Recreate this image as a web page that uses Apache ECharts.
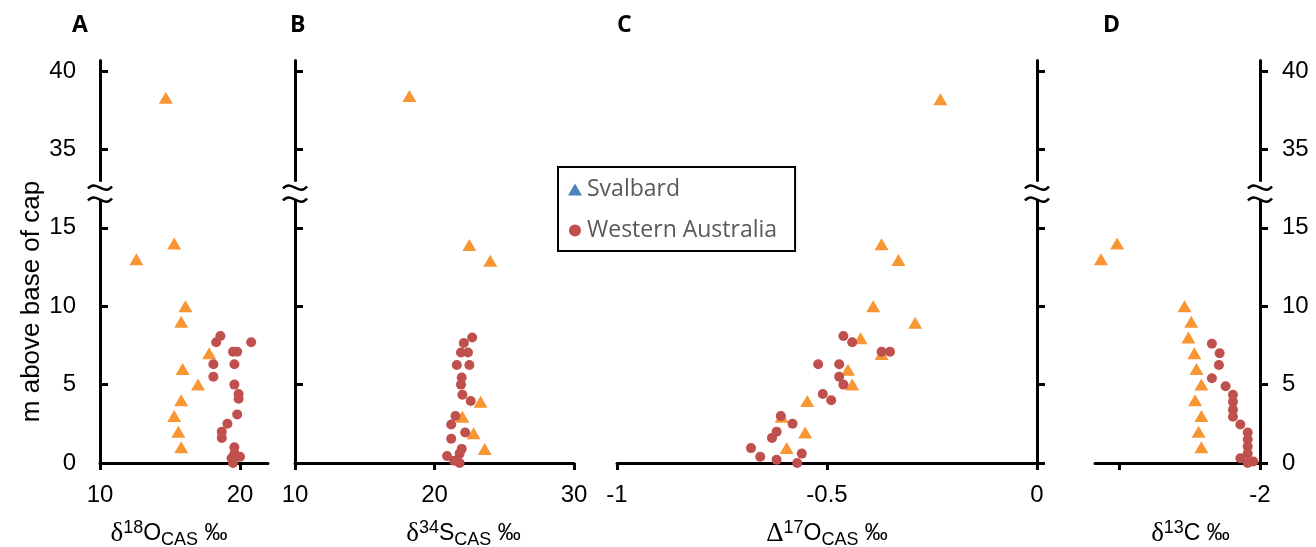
<!DOCTYPE html>
<html>
<head>
<meta charset="utf-8">
<script src="https://cdn.jsdelivr.net/npm/echarts@6/dist/echarts.min.js"></script>
<style>
  html, body { margin: 0; background: #fff; }
  #chart { width: 1316px; height: 547px; }
</style>
</head>
<body>
<div id="chart"></div>
<script>
  // heights are m above base of cap, isotope values in permil
  const yTicks = [0, 5, 10, 15, 35, 40]

  const d18O_svalbard = [[14.7,38.3],[15.3,14.0],[12.6,13.0],[16.1,10.0],[15.8,9.0],[17.8,7.0],[15.9,6.0],[17.0,5.0],[15.8,4.0],[15.3,3.0],[15.6,2.0],[15.8,1.0]]
  const d18O_wa = [[18.6,8.1],[18.3,7.7],[20.8,7.7],[19.5,7.1],[19.8,7.1],[18.1,6.3],[19.6,6.3],[18.1,5.5],[19.6,5.0],[19.9,4.4],[19.9,4.1],[19.8,3.1],[19.1,2.5],[18.7,2.0],[18.7,1.6],[19.6,1.0],[19.6,0.6],[20.0,0.4],[19.4,0.3],[19.5,0.0]]

  const d34S_svalbard = [[18.2,38.4],[22.5,13.9],[24.0,12.9],[23.3,3.9],[22.0,2.95],[22.8,1.9],[23.6,0.9]]
  const d34S_wa = [[22.7,8.0],[22.1,7.65],[21.9,7.05],[22.4,7.05],[21.6,6.25],[22.5,6.25],[21.95,5.45],[21.9,5.0],[22.0,4.35],[22.6,3.95],[21.5,3.0],[21.2,2.45],[22.2,1.95],[21.2,1.55],[21.95,0.9],[21.8,0.6],[20.9,0.45],[21.4,0.15],[21.8,0.0]]

  const D17O_svalbard = [[-0.23,38.2],[-0.37,13.95],[-0.33,12.95],[-0.39,10.0],[-0.29,8.95],[-0.42,7.95],[-0.37,6.95],[-0.45,5.95],[-0.44,5.0],[-0.547,3.95],[-0.608,2.95],[-0.552,1.95],[-0.596,0.95]]
  const D17O_wa = [[-0.461,8.1],[-0.44,7.7],[-0.37,7.1],[-0.35,7.1],[-0.521,6.3],[-0.471,6.3],[-0.471,5.5],[-0.461,5.0],[-0.51,4.4],[-0.49,4.0],[-0.61,3.0],[-0.582,2.5],[-0.62,2.0],[-0.631,1.6],[-0.681,0.95],[-0.56,0.6],[-0.659,0.4],[-0.62,0.2],[-0.571,0.0]]

  const d13C_svalbard = [[-6.07,14.0],[-6.53,13.0],[-4.15,10.0],[-3.96,9.0],[-4.04,8.0],[-3.87,7.0],[-3.81,6.0],[-3.67,5.0],[-3.85,4.0],[-3.67,3.0],[-3.75,2.0],[-3.67,1.0]]
  const d13C_wa = [[-3.37,7.6],[-3.15,7.0],[-3.17,6.25],[-3.37,5.4],[-2.98,4.9],[-2.77,4.35],[-2.77,3.9],[-2.77,3.4],[-2.77,2.95],[-2.56,2.45],[-2.35,1.95],[-2.35,1.5],[-2.35,1.05],[-2.35,0.6],[-2.56,0.3],[-2.19,0.1],[-2.35,0.0]]

  const panels = [
    { letter: 'A', grid: { left: 100, width: 168 }, xMin: 10, xMax: 22, xTicks: [10, 20], xLabels: [10, 20],
      yPos: 'left', yLabels: true, name: '{d|δ}{sup|18}{n|O}{sub|CAS}{n| ‰}', namePad: [0, 30, 0, 0],
      sval: d18O_svalbard, wa: d18O_wa, letterLeft: 72 },
    { letter: 'B', grid: { left: 295, width: 279 }, xMin: 10, xMax: 30, xTicks: [10, 20, 30], xLabels: [10, 20, 30],
      yPos: 'left', yLabels: false, name: '{d|δ}{sup|34}{n|S}{sub|CAS}{n| ‰}', namePad: [0, 0, 0, 58],
      sval: d34S_svalbard, wa: d34S_wa, letterLeft: 290 },
    { letter: 'C', grid: { left: 617, width: 420 }, xMin: -1, xMax: 0, xTicks: [-1, -0.5, 0], xLabels: [-1, -0.5, 0],
      yPos: 'right', yLabels: false, name: '{d|Δ}{sup|17}{n|O}{sub|CAS}{n| ‰}', namePad: [0, 0, 0, 0],
      sval: D17O_svalbard, wa: D17O_wa, letterLeft: 617 },
    { letter: 'D', grid: { left: 1095, width: 165 }, xMin: -6.7, xMax: -2, xTicks: [-6, -2], xLabels: [-2],
      yPos: 'right', yLabels: true, name: '{d|δ}{sup|13}{n|C ‰}', namePad: [0, 0, 0, 26],
      sval: d13C_svalbard, wa: d13C_wa, letterLeft: 1103 }
  ]

  const chart = echarts.init(document.getElementById('chart'))

  const axisLine = { show: true, onZero: false, lineStyle: { color: '#000', width: 3 } }
  const labelFont = { fontFamily: 'Liberation Sans', fontSize: 24, color: '#000' }

  let option = {
    animation: false,
    title: panels.map(p => ({
      text: p.letter, left: p.letterLeft, top: 14, padding: 0,
      textStyle: { fontFamily: 'Open Sans', fontWeight: 'bold', fontSize: 23, color: '#000' }
    })),
    legend: {
      left: 558, top: 167, orient: 'vertical',
      padding: [11, 18, 9, 10], itemGap: 18, itemWidth: 14, itemHeight: 12,
      borderColor: '#000', borderWidth: 2,
      textStyle: { fontFamily: 'Open Sans', fontSize: 23, color: '#595959' },
      data: [
        { name: 'Svalbard', icon: 'triangle', itemStyle: { color: '#4F81BD' } },
        { name: 'Western Australia', icon: 'circle', itemStyle: { color: '#C0504D' } }
      ]
    },
    grid: panels.map(p => ({ left: p.grid.left, width: p.grid.width, top: 60, height: 403,
      containLabel: false, outerBoundsMode: 'none' })),
    xAxis: panels.map((p, i) => ({
      type: 'value', gridIndex: i, min: p.xMin, max: p.xMax,
      axisLine: axisLine,
      axisTick: { show: true, customValues: p.xTicks, length: 7, lineStyle: { color: '#000', width: 3 } },
      axisLabel: Object.assign({ customValues: p.xLabels, margin: 20 }, labelFont),
      splitLine: { show: false },
      name: p.name, nameLocation: 'middle', nameGap: 56,
      nameTextStyle: {
        padding: p.namePad,
        rich: {
          d: { fontFamily: 'Liberation Serif', fontSize: 27, color: '#000', lineHeight: 30 },
          n: { fontFamily: 'Liberation Sans', fontSize: 23, color: '#000', lineHeight: 30 },
          sup: { fontFamily: 'Liberation Sans', fontSize: 18, color: '#000', verticalAlign: 'top', lineHeight: 30 },
          sub: { fontFamily: 'Liberation Sans', fontSize: 18, color: '#000', verticalAlign: 'bottom', lineHeight: 22 }
        }
      }
    })),
    yAxis: panels.map((p, i) => ({
      type: 'value', gridIndex: i, position: p.yPos, min: 0, max: 40.7,
      breaks: [{ start: 17, end: 33, gap: 1 }],
      breakArea: { show: false },
      axisLine: axisLine,
      axisTick: { show: true, customValues: yTicks, inside: p.yPos === 'left', length: 8,
        lineStyle: { color: '#000', width: 3 } },
      axisLabel: Object.assign({ show: p.yLabels, customValues: yTicks, margin: p.yPos === 'left' ? 24 : 22 }, labelFont),
      splitLine: { show: false },
      name: i === 0 ? 'm above base of cap' : '',
      nameLocation: 'middle', nameGap: 55,
      nameTextStyle: { fontFamily: 'Liberation Sans', fontSize: 26, color: '#000', padding: [0, 80, 0, 0] }
    })),
    series: []
  }

  panels.forEach((p, i) => {
    option.series.push({
      name: 'Svalbard', type: 'scatter', xAxisIndex: i, yAxisIndex: i,
      symbol: 'triangle', symbolSize: [14, 12],
      itemStyle: { color: '#F79633', opacity: 1 },
      data: p.sval
    })
    option.series.push({
      name: 'Western Australia', type: 'scatter', xAxisIndex: i, yAxisIndex: i,
      symbol: 'circle', symbolSize: 10,
      itemStyle: { color: '#C0504D', opacity: 1 },
      data: p.wa
    })
  })

  chart.setOption(option)

  // break marks on each height axis
  let marks = []
  panels.forEach((p, i) => {
    let xEdge = p.yPos === 'left' ? p.xMin : p.xMax
    let lo = chart.convertToPixel({ gridIndex: i }, [xEdge, 15])
    let hi = chart.convertToPixel({ gridIndex: i }, [xEdge, 35])
    let cx = lo[0]
    let cy = (lo[1] + hi[1]) / 2 + 5
    marks.push({ type: 'rect', shape: { x: cx - 4, y: cy - 6, width: 8, height: 12 }, style: { fill: '#fff' }, z: 100 })
    ;[-6, 6].forEach(dy => {
      marks.push({
        type: 'bezierCurve', z: 101,
        shape: { x1: cx - 12, y1: cy + dy + 1, cpx1: cx - 4, cpy1: cy + dy - 9, cpx2: cx + 4, cpy2: cy + dy + 9, x2: cx + 12, y2: cy + dy - 1 },
        style: { stroke: '#000', lineWidth: 2.5, fill: null }
      })
    })
  })
  chart.setOption({ graphic: marks })
</script>
</body>
</html>
